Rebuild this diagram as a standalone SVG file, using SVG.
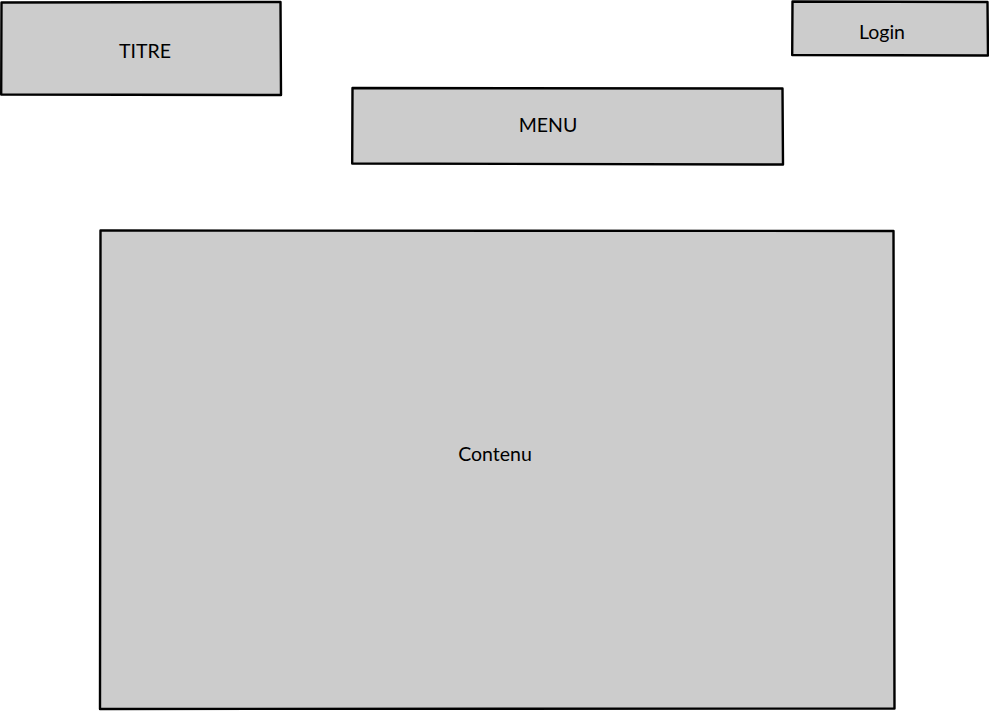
<svg xmlns="http://www.w3.org/2000/svg" width="989" height="711" viewBox="0 0 989 711">
  <style>
    .box { fill: #cccccc; stroke: #000000; stroke-width: 2.4; stroke-linejoin: round; }
    .label { font-family: "Lato", "Open Sans", "Liberation Sans", sans-serif; font-size: 19.5px; fill: #000000; text-anchor: middle; dominant-baseline: central; }
  </style>
  <rect width="989" height="711" fill="#ffffff"/>
  <g id="titre">
    <path class="box" d="M1.5 2.5 L280.5 2 L281 95 L1.2 94.5 Z"/>
    <text class="label" x="145" y="50">TITRE</text>
  </g>
  <g id="login">
    <path class="box" d="M792.5 1.5 L987.5 2 L988 55.5 L792.2 55 Z"/>
    <text class="label" x="882" y="31">Login</text>
  </g>
  <g id="menu">
    <path class="box" d="M352.5 88 L782.5 88.5 L783 164.5 L352.2 163.5 Z"/>
    <text class="label" x="548" y="124">MENU</text>
  </g>
  <g id="contenu">
    <path class="box" d="M100.5 230.5 L893.5 231 L894.5 708.5 L100 709 Z"/>
    <text class="label" x="495" y="453">Contenu</text>
  </g>
  <g id="connectors"/>
</svg>
